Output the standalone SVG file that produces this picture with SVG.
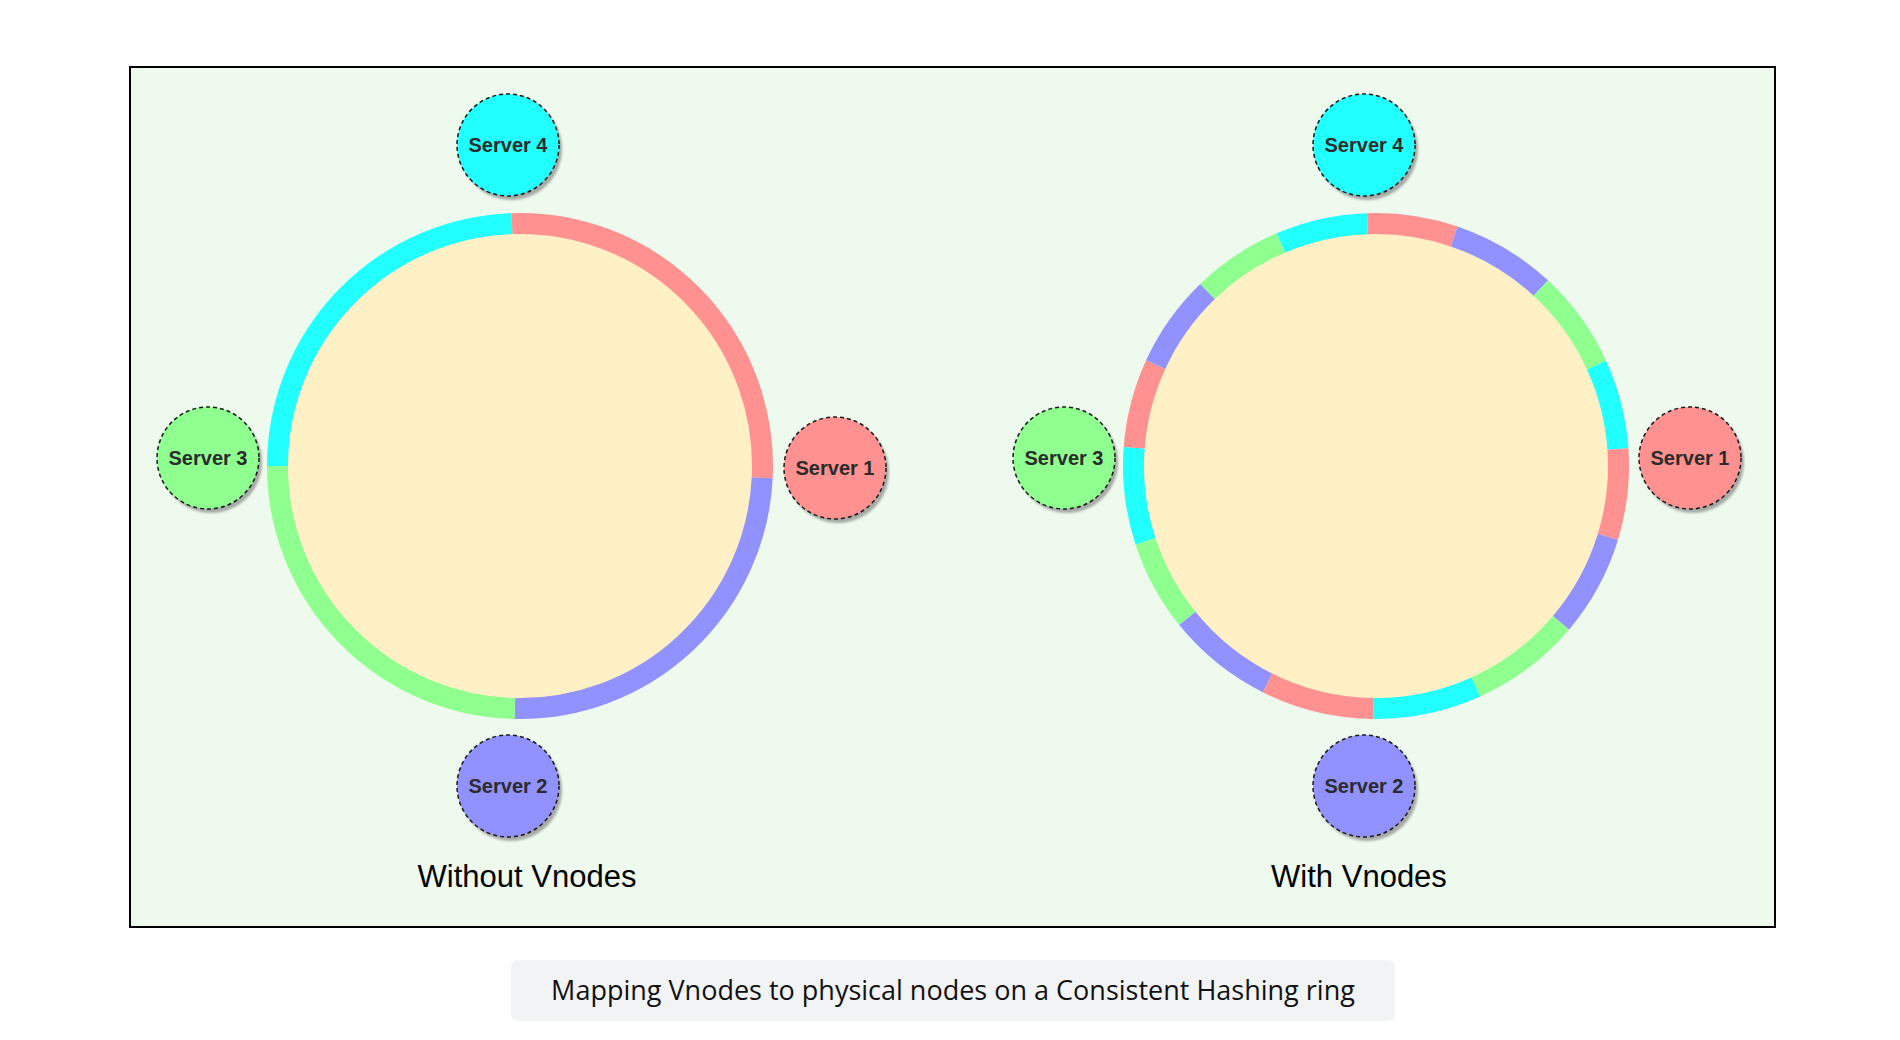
<svg xmlns="http://www.w3.org/2000/svg" width="1900" height="1040" viewBox="0 0 1900 1040">
  <defs>
    <filter id="shadow" x="-30%" y="-30%" width="160%" height="160%">
      <feGaussianBlur stdDeviation="1.2"/>
    </filter>
    <style>
      .frame { fill: #EDFAED; stroke: #000000; stroke-width: 2; }
      .hub { fill: #FFF0C6; }
      .seg { fill: none; stroke-width: 21; stroke-linecap: butt; }
      .red { stroke: #FF9191; }
      .blue { stroke: #9191FF; }
      .green { stroke: #8FFF8F; }
      .cyan { stroke: #22FFFF; }
      .srv { stroke: #1a1a1a; stroke-width: 1.5; stroke-dasharray: 4 3; }
      .sh { fill: #8a8a8a; opacity: 0.7; filter: url(#shadow); }
      .srvtxt { font-family: "Liberation Sans", Arial, sans-serif; font-weight: bold; font-size: 20px; fill: #2b2b2b; text-anchor: middle; }
      .label { font-family: "Liberation Sans", Arial, sans-serif; font-size: 31px; fill: #000000; text-anchor: middle; }
      .caption { font-family: "Open Sans", "Noto Sans", sans-serif; font-size: 27px; fill: #111111; text-anchor: middle; }
    </style>
  </defs>
  <rect width="1900" height="1040" fill="#FFFFFF"/>
  <rect class="frame" x="130" y="67" width="1645" height="860"/>

  <g id="ring-left">
    <circle class="hub" cx="520" cy="466" r="243"/>
    <path class="seg red" d="M511.96,223.63 A242.5,242.5 0 0 1 762.21,477.85"/>
    <path class="seg blue" d="M762.21,477.85 A242.5,242.5 0 0 1 514.92,708.45"/>
    <path class="seg green" d="M514.92,708.45 A242.5,242.5 0 0 1 277.5,466"/>
    <path class="seg cyan" d="M277.5,466 A242.5,242.5 0 0 1 511.96,223.63"/>
  </g>

  <g id="ring-right">
    <circle class="hub" cx="1376" cy="466" r="243"/>
    <path class="seg red" d="M1367.54,223.65 A242.5,242.5 0 0 1 1454.15,236.44"/>
    <path class="seg blue" d="M1454.15,236.44 A242.5,242.5 0 0 1 1540.76,288.07"/>
    <path class="seg green" d="M1540.76,288.07 A242.5,242.5 0 0 1 1596.49,365.05"/>
    <path class="seg cyan" d="M1596.49,365.05 A242.5,242.5 0 0 1 1617.91,449.08"/>
    <path class="seg red" d="M1617.91,449.08 A242.5,242.5 0 0 1 1607.90,536.90"/>
    <path class="seg blue" d="M1607.90,536.90 A242.5,242.5 0 0 1 1560.95,622.85"/>
    <path class="seg green" d="M1560.95,622.85 A242.5,242.5 0 0 1 1475.79,687.02"/>
    <path class="seg cyan" d="M1475.79,687.02 A242.5,242.5 0 0 1 1373.46,708.49"/>
    <path class="seg red" d="M1373.46,708.49 A242.5,242.5 0 0 1 1267.42,682.83"/>
    <path class="seg blue" d="M1267.42,682.83 A242.5,242.5 0 0 1 1187.28,618.28"/>
    <path class="seg green" d="M1187.28,618.28 A242.5,242.5 0 0 1 1145.50,541.34"/>
    <path class="seg cyan" d="M1145.50,541.34 A242.5,242.5 0 0 1 1134.18,447.82"/>
    <path class="seg red" d="M1134.18,447.82 A242.5,242.5 0 0 1 1155.69,364.67"/>
    <path class="seg blue" d="M1155.69,364.67 A242.5,242.5 0 0 1 1207.55,291.56"/>
    <path class="seg green" d="M1207.55,291.56 A242.5,242.5 0 0 1 1280.86,242.94"/>
    <path class="seg cyan" d="M1280.86,242.94 A242.5,242.5 0 0 1 1367.54,223.65"/>
  </g>

  <g id="left-server-4">
    <circle class="sh" cx="511" cy="149" r="51"/>
    <circle class="srv" cx="508" cy="145" r="51" fill="#22FFFF"/>
    <text class="srvtxt" x="508" y="152">Server 4</text>
  </g>
  <g id="left-server-3">
    <circle class="sh" cx="211" cy="462" r="51"/>
    <circle class="srv" cx="208" cy="458" r="51" fill="#8FFF8F"/>
    <text class="srvtxt" x="208" y="465">Server 3</text>
  </g>
  <g id="left-server-2">
    <circle class="sh" cx="511" cy="790" r="51"/>
    <circle class="srv" cx="508" cy="786" r="51" fill="#9191FF"/>
    <text class="srvtxt" x="508" y="793">Server 2</text>
  </g>
  <g id="left-server-1">
    <circle class="sh" cx="838" cy="472" r="51"/>
    <circle class="srv" cx="835" cy="468" r="51" fill="#FF9191"/>
    <text class="srvtxt" x="835" y="475">Server 1</text>
  </g>

  <g id="right-server-4">
    <circle class="sh" cx="1367" cy="149" r="51"/>
    <circle class="srv" cx="1364" cy="145" r="51" fill="#22FFFF"/>
    <text class="srvtxt" x="1364" y="152">Server 4</text>
  </g>
  <g id="right-server-3">
    <circle class="sh" cx="1067" cy="462" r="51"/>
    <circle class="srv" cx="1064" cy="458" r="51" fill="#8FFF8F"/>
    <text class="srvtxt" x="1064" y="465">Server 3</text>
  </g>
  <g id="right-server-2">
    <circle class="sh" cx="1367" cy="790" r="51"/>
    <circle class="srv" cx="1364" cy="786" r="51" fill="#9191FF"/>
    <text class="srvtxt" x="1364" y="793">Server 2</text>
  </g>
  <g id="right-server-1">
    <circle class="sh" cx="1693" cy="462" r="51"/>
    <circle class="srv" cx="1690" cy="458" r="51" fill="#FF9191"/>
    <text class="srvtxt" x="1690" y="465">Server 1</text>
  </g>

  <g id="labels">
    <text class="label" x="527" y="887">Without Vnodes</text>
    <text class="label" x="1359" y="887">With Vnodes</text>
  </g>

  <g id="caption">
    <rect x="511" y="960" width="884" height="61" rx="7" fill="#F2F3F5"/>
    <text class="caption" x="953" y="1000">Mapping Vnodes to physical nodes on a Consistent Hashing ring</text>
  </g>
</svg>
